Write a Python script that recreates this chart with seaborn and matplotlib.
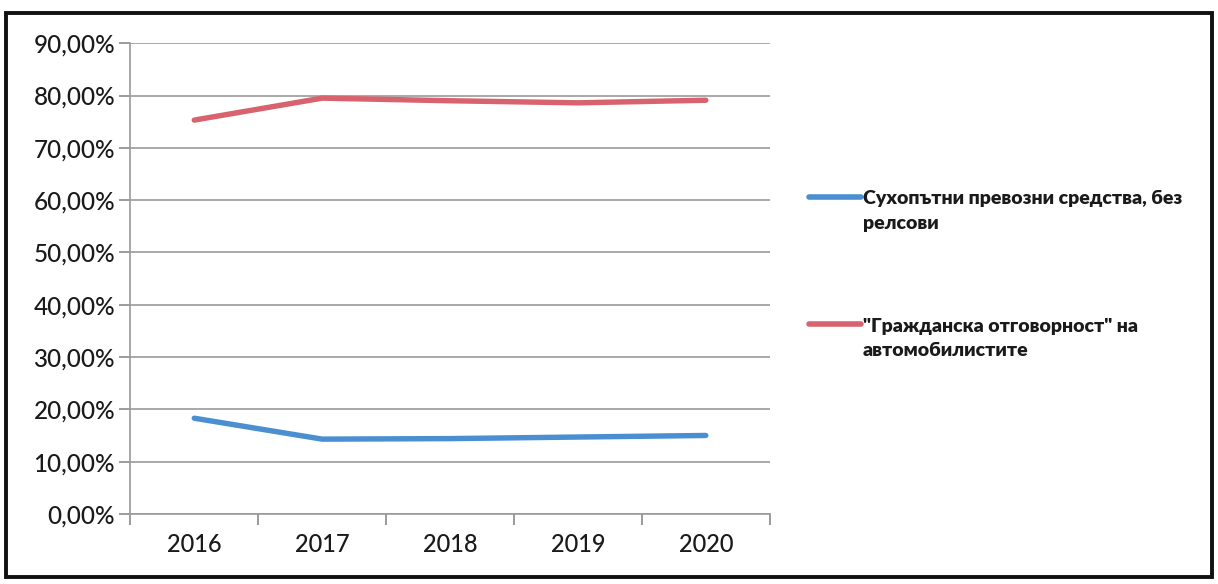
import matplotlib
matplotlib.use("Agg")
import matplotlib.pyplot as plt
import seaborn as sns
import pandas as pd
from matplotlib.patches import Rectangle
from matplotlib.ticker import FixedLocator, FuncFormatter

years = ["2016", "2017", "2018", "2019", "2020"]
series_names = ["Сухопътни превозни средства, без\nрелсови",
                "\"Гражданска отговорност\" на\nавтомобилистите"]
land_vehicles = [18.3, 14.3, 14.4, 14.7, 15.0]
civil_liability = [75.3, 79.5, 79.0, 78.6, 79.1]
y_ticks = [0, 10, 20, 30, 40, 50, 60, 70, 80, 90]
colors = ["#4A8FD2", "#D8636E"]

df = pd.DataFrame({
    "year": years * 2,
    "value": land_vehicles + civil_liability,
    "series": [series_names[0]] * len(years) + [series_names[1]] * len(years),
})

sns.set_theme(style="white")
plt.rcParams["font.family"] = ["Lato", "DejaVu Sans"]

fig = plt.figure(figsize=(12.18, 5.84), dpi=100)
ax = fig.add_axes([0.107, 0.12, 0.525, 0.806])

sns.lineplot(data=df, x="year", y="value", hue="series", palette=colors,
             linewidth=3.9, ax=ax, sort=False, legend=True)

ax.set_xlim(-0.5, 4.5)
ax.set_ylim(0, 90)
ax.set_xlabel("")
ax.set_ylabel("")

ax.yaxis.set_major_locator(FixedLocator(y_ticks))
ax.yaxis.set_major_formatter(FuncFormatter(lambda v, p: f"{v:.2f}".replace(".", ",") + "%"))
ax.grid(axis="y", color="#9A9A9A", linewidth=1.2)
ax.set_axisbelow(True)

ax.set_xticks(range(len(years)))
ax.set_xticklabels(years)
ax.set_xticks([i - 0.5 for i in range(len(years) + 1)], minor=True)
ax.tick_params(axis="x", which="major", length=0, pad=14, labelsize=17, labelcolor="#1A1A1A")
ax.tick_params(axis="x", which="minor", length=8, width=1.2, color="#8A8A8A", direction="out", bottom=True)
ax.tick_params(axis="y", which="major", length=8, width=1.2, color="#8A8A8A", direction="out", left=True,
               labelsize=17.5, labelcolor="#1A1A1A", pad=3)
for lbl in ax.get_xticklabels() + ax.get_yticklabels():
    lbl.set_fontweight("medium")

for s in ["top", "right"]:
    ax.spines[s].set_visible(False)
for s in ["left", "bottom"]:
    ax.spines[s].set_color("#9A9A9A")
    ax.spines[s].set_linewidth(1.2)

handles, labels = ax.get_legend_handles_labels()
if ax.legend_:
    ax.legend_.remove()
leg = fig.legend(handles, labels, loc="upper left", bbox_to_anchor=(0.650, 0.704),
                 frameon=False, handlelength=2.65, handletextpad=0.1, labelspacing=4.4,
                 prop={"family": ["Lato", "DejaVu Sans"], "weight": "heavy", "size": 14})
for line in leg.get_lines():
    line.set_linewidth(4.0)
for t in leg.get_texts():
    t.set_color("#1A1A1A")
    t.set_linespacing(1.55)
for col in leg._legend_handle_box.get_children():
    for item in col.get_children():
        item.align = "top"

fig.patches.append(Rectangle((0.005, 0.012), 0.99, 0.965, transform=fig.transFigure,
                             fill=False, edgecolor="#111111", linewidth=2.8))

fig.savefig("out.png", dpi=100, facecolor="white")
